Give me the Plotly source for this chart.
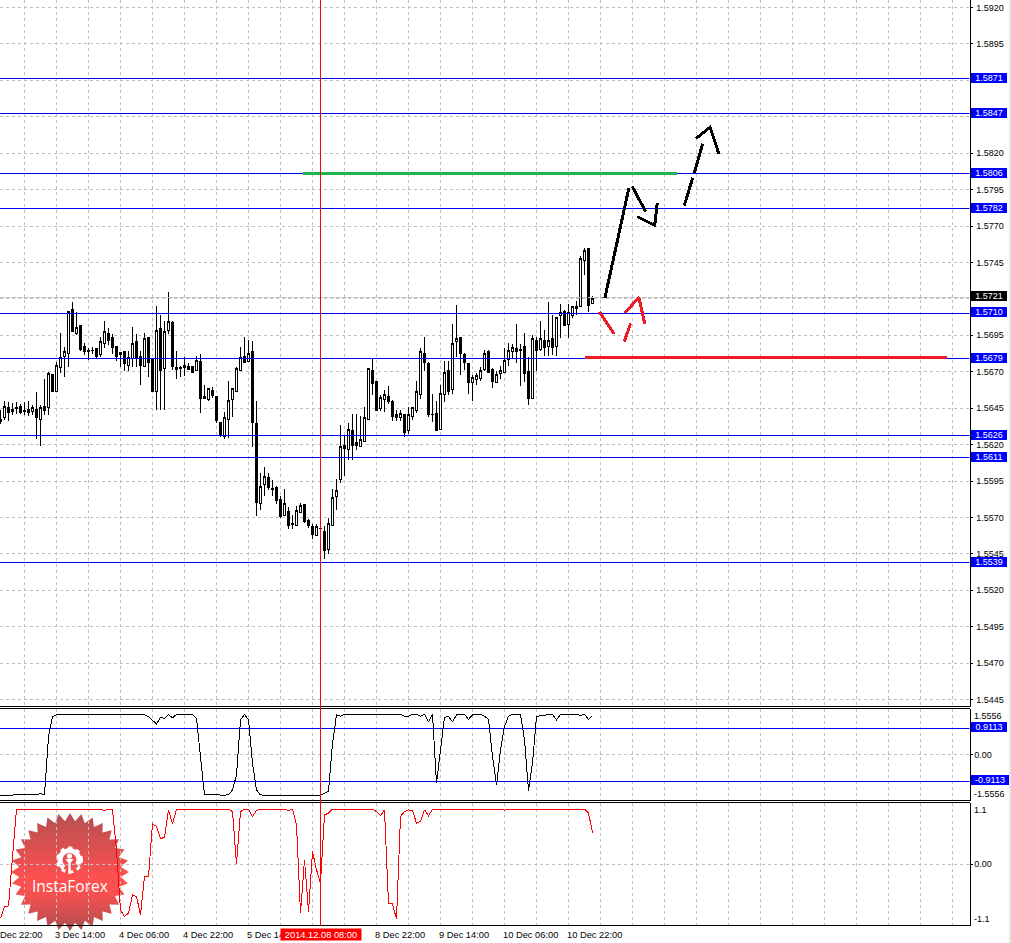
import base64
import math
import plotly.graph_objects as go

# ---------- data (ten candles per row) ----------
OPEN = [
1.56371,1.56383,1.56453,1.56442,1.56453,1.56462,1.56435,1.56442,1.56430,1.56439,
1.56371,1.56460,1.56453,1.56678,1.56562,1.56730,1.56803,1.56825,1.57127,1.56962,
1.57019,1.56871,1.56848,1.56848,1.56857,1.56816,1.56896,1.56964,1.56932,1.56875,
1.56830,1.56841,1.56744,1.56794,1.56909,1.56807,1.56739,1.56937,1.56782,1.56562,
1.56998,1.56719,1.56980,1.57039,1.56732,1.56732,1.56730,1.56739,1.56735,1.56710,
1.56769,1.56528,1.56512,1.56569,1.56530,1.56351,1.56253,1.56371,1.56512,1.56566,
1.56712,1.56807,1.56771,1.56841,1.56344,1.55799,1.55929,1.55976,1.55897,1.55908,
1.55826,1.55715,1.55738,1.55656,1.55647,1.55736,1.55786,1.55677,1.55636,1.55579,
1.55627,1.55606,1.55477,1.55645,1.55845,1.55958,1.56197,1.56167,1.56299,1.56215,
1.56185,1.56222,1.56371,1.56712,1.56632,1.56451,1.56512,1.56528,1.56496,1.56405,
1.56383,1.56408,1.56294,1.56390,1.56437,1.56546,1.56828,1.56760,1.56408,1.56412,
1.56306,1.56542,1.56712,1.56581,1.56910,1.56937,1.56821,1.56760,1.56623,1.56648,
1.56655,1.56716,1.56841,1.56714,1.56626,1.56689,1.56698,1.56787,1.56841,1.56857,
1.56855,1.56871,1.56701,1.56514,1.56916,1.56850,1.56916,1.56871,1.56930,1.56873,
1.57084,1.57114,1.57023,1.57084,1.57132,1.57150,1.57461,1.57543,1.57168]
HIGH = [
1.56435,1.56496,1.56492,1.56485,1.56492,1.56476,1.56492,1.56496,1.56469,1.56564,
1.56474,1.56651,1.56701,1.56678,1.56764,1.56969,1.56871,1.57116,1.57177,1.57109,
1.57021,1.56898,1.56866,1.56873,1.56857,1.56939,1.57048,1.56998,1.56957,1.56878,
1.56839,1.56844,1.56844,1.57007,1.56962,1.56844,1.56964,1.56939,1.56787,1.57150,
1.57093,1.57048,1.57245,1.57048,1.56844,1.56741,1.56803,1.56759,1.56739,1.56809,
1.56821,1.56612,1.56589,1.56594,1.56533,1.56356,1.56424,1.56639,1.56583,1.56730,
1.56871,1.56939,1.56916,1.56912,1.56496,1.56004,1.56047,1.56008,1.55958,1.55917,
1.55849,1.55895,1.55772,1.55720,1.55777,1.55799,1.55788,1.55690,1.55652,1.55652,
1.55629,1.55640,1.55697,1.55895,1.55963,1.56333,1.56258,1.56351,1.56408,1.56412,
1.56394,1.56458,1.56719,1.56787,1.56639,1.56537,1.56576,1.56605,1.56503,1.56435,
1.56440,1.56412,1.56458,1.56453,1.56639,1.56866,1.56939,1.56764,1.56549,1.56496,
1.56612,1.56771,1.56771,1.57030,1.57157,1.56939,1.56832,1.56760,1.56680,1.56689,
1.56735,1.56848,1.56848,1.56723,1.56707,1.56742,1.56860,1.56896,1.56889,1.57025,
1.56889,1.56964,1.56798,1.56950,1.56939,1.57048,1.56984,1.57180,1.57093,1.57075,
1.57166,1.57121,1.57166,1.57148,1.57189,1.57495,1.57552,1.57543,1.57218]
LOW = [
1.56344,1.56367,1.56360,1.56401,1.56412,1.56408,1.56401,1.56394,1.56401,1.56237,
1.56192,1.56405,1.56401,1.56560,1.56560,1.56689,1.56667,1.56735,1.56975,1.56953,
1.56844,1.56816,1.56780,1.56825,1.56796,1.56803,1.56866,1.56884,1.56825,1.56776,
1.56735,1.56707,1.56703,1.56730,1.56735,1.56607,1.56737,1.56667,1.56560,1.56435,
1.56435,1.56435,1.56962,1.56712,1.56648,1.56667,1.56673,1.56712,1.56694,1.56707,
1.56417,1.56512,1.56498,1.56521,1.56349,1.56253,1.56235,1.56242,1.56390,1.56560,
1.56703,1.56757,1.56764,1.56185,1.55709,1.55754,1.55845,1.55886,1.55845,1.55795,
1.55697,1.55713,1.55618,1.55618,1.55645,1.55731,1.55663,1.55629,1.55554,1.55577,
1.55622,1.55413,1.55448,1.55640,1.55754,1.55936,1.55981,1.56094,1.56094,1.56162,
1.56181,1.56217,1.56367,1.56537,1.56433,1.56430,1.56424,1.56476,1.56360,1.56362,
1.56362,1.56253,1.56272,1.56367,1.56417,1.56514,1.56707,1.56390,1.56356,1.56294,
1.56299,1.56492,1.56537,1.56544,1.56798,1.56678,1.56712,1.56544,1.56496,1.56610,
1.56635,1.56707,1.56696,1.56587,1.56621,1.56651,1.56696,1.56742,1.56787,1.56760,
1.56601,1.56628,1.56469,1.56510,1.56707,1.56844,1.56805,1.56810,1.56816,1.56810,
1.56934,1.57014,1.56930,1.57066,1.57089,1.57143,1.57361,1.57112,1.57166]
CLOSE = [
1.56356,1.56462,1.56417,1.56430,1.56451,1.56417,1.56430,1.56417,1.56453,1.56383,
1.56453,1.56437,1.56691,1.56566,1.56741,1.56800,1.56841,1.57114,1.56975,1.57005,
1.56853,1.56837,1.56841,1.56846,1.56803,1.56909,1.56978,1.56914,1.56869,1.56805,
1.56821,1.56757,1.56800,1.56896,1.56800,1.56741,1.56930,1.56764,1.56564,1.56982,
1.56712,1.56978,1.57046,1.56735,1.56716,1.56719,1.56746,1.56716,1.56696,1.56780,
1.56519,1.56517,1.56583,1.56540,1.56362,1.56260,1.56385,1.56501,1.56583,1.56719,
1.56800,1.56762,1.56828,1.56349,1.55804,1.55913,1.55983,1.55908,1.55892,1.55818,
1.55709,1.55799,1.55647,1.55654,1.55745,1.55779,1.55670,1.55647,1.55584,1.55636,
1.55622,1.55470,1.55656,1.55840,1.55886,1.56190,1.56170,1.56303,1.56197,1.56192,
1.56235,1.56385,1.56719,1.56621,1.56437,1.56524,1.56542,1.56498,1.56390,1.56387,
1.56412,1.56281,1.56405,1.56453,1.56562,1.56841,1.56764,1.56408,1.56406,1.56299,
1.56549,1.56698,1.56564,1.56896,1.56930,1.56825,1.56764,1.56628,1.56658,1.56671,
1.56712,1.56828,1.56698,1.56635,1.56678,1.56712,1.56780,1.56848,1.56869,1.56839,
1.56848,1.56689,1.56519,1.56930,1.56848,1.56930,1.56864,1.56916,1.56869,1.57073,
1.57107,1.57016,1.57107,1.57148,1.57148,1.57475,1.57529,1.57152,1.57203]

IND1 = [
-1.40,-1.40,-1.40,-1.40,-1.40,-1.40,-1.40,-1.40,-1.40,-1.38,
-1.35,-1.38,0.61,1.30,1.36,1.38,1.37,1.38,1.38,1.38,
1.38,1.38,1.38,1.38,1.38,1.38,1.38,1.38,1.38,1.38,
1.38,1.38,1.38,1.38,1.38,1.38,1.37,1.30,1.16,1.05,
1.28,1.24,1.37,1.26,1.38,1.38,1.38,1.38,1.38,1.24,
-0.19,-1.39,-1.39,-1.37,-1.37,-1.40,-1.39,-1.39,-1.22,-0.70,
1.19,1.38,1.19,-0.30,-1.22,-1.39,-1.40,-1.40,-1.40,-1.40,
-1.40,-1.40,-1.40,-1.40,-1.40,-1.40,-1.40,-1.40,-1.38,-1.40,
-1.40,-1.34,-1.26,0.38,1.36,1.32,1.38,1.38,1.38,1.38,
1.38,1.38,1.38,1.38,1.38,1.38,1.38,1.38,1.38,1.38,
1.38,1.32,1.32,1.38,1.38,1.32,1.38,1.13,1.38,-0.99,
0.15,1.28,1.30,1.13,1.36,1.38,1.38,1.21,1.36,1.38,
1.38,1.32,1.21,-0.07,-1.05,0.15,0.96,1.32,1.38,1.38,
1.38,0.50,-1.24,-0.30,1.30,1.34,1.36,1.36,1.38,1.19,
1.38,1.38,1.38,1.38,1.38,1.34,1.38,1.21,1.34]
IND2 = [
-1.08,-0.847,-0.833,0.187,1.10,1.10,1.10,1.10,1.10,1.10,
1.10,1.10,1.10,1.10,1.10,1.10,1.10,1.10,1.10,1.10,
1.10,1.10,1.10,1.10,1.10,1.10,1.073,1.10,1.087,0.287,
-0.913,-1.047,-0.98,-0.613,-0.647,-1.013,-0.247,-0.247,0.807,0.753,
0.507,0.54,1.087,0.807,1.10,1.10,1.10,1.10,1.10,1.10,
1.10,1.10,1.10,1.10,1.10,1.10,1.10,1.10,1.053,0.00,
1.053,1.10,1.10,0.953,1.073,1.10,1.10,1.10,1.10,1.10,
1.10,1.10,1.073,1.10,0.787,-0.98,0.087,-0.947,0.253,-0.113,
-0.38,0.987,1.02,1.10,1.10,1.10,1.10,1.10,1.10,1.10,
1.10,1.10,1.10,1.10,1.053,0.973,1.087,-0.78,-0.793,-1.10,
0.953,1.053,1.087,1.073,0.82,0.853,1.087,0.967,1.10,1.10,
1.10,1.087,1.10,1.10,1.10,1.10,1.10,1.10,1.10,1.10,
1.10,1.10,1.10,1.10,1.10,1.10,1.08,1.10,1.10,1.10,
1.10,1.10,1.10,1.10,1.10,1.10,1.10,1.10,1.10,1.10,
1.10,1.10,1.10,1.10,1.10,1.10,1.10,1.02,0.633]

LEVELS = [1.5871, 1.5847, 1.5806, 1.5782, 1.5710, 1.5679, 1.5626, 1.5611, 1.5539]
LAST_PRICE = 1.5721
IND1_LEVELS = [0.9113, -0.9113]
MAIN_TICKS = [1.5920,1.5895,1.5870,1.5845,1.5820,1.5795,1.5770,1.5745,1.5720,1.5695,1.5670,1.5645,1.5620,1.5595,1.5570,1.5545,1.5520,1.5495,1.5470,1.5445]
HIDDEN_TICK_LABELS = [1.5870, 1.5845, 1.5720]  # covered by the level tags in the reference
GRID_CANDLES = [6 + 8 * j for j in range(30)]
TIME_CANDLES = [14, 30, 46, 62, 94, 110, 126, 142]
TIME_LABELS = ["3 Dec 14:00","4 Dec 06:00","4 Dec 22:00","5 Dec 14:00","8 Dec 22:00","9 Dec 14:00","10 Dec 06:00","10 Dec 22:00"]
FIRST_TIME_LABEL = "Dec 22:00"
CROSS_CANDLE = 80
CROSS_LABEL = "2014.12.08 08:00"

BLACK_X = [151.1,157.1,None,157.9,161.3,None,159.2,163.55,164.2,None,170.95,173.05,None,173.45,175.55,None,173.9,177.4,179.6]
BLACK_Y = [1.57207,1.57962,None,1.57973,1.57799,None,1.57765,1.57705,1.57861,None,1.57841,1.58031,None,1.58065,1.58266,None,1.58302,1.58378,1.58195]
RED_X = [149.7,153.4,None,155.95,157.55,None,156.1,159.6,161.05]
RED_Y = [1.57111,1.56960,None,1.56908,1.57033,None,1.57104,1.57211,1.57029]
GREEN_X = [75.6,169.1]
GREEN_Y = [1.5806,1.5806]
RED_LEVEL_X = [146.1,236.6]
RED_LEVEL_Y = [1.56798,1.56798]

lengths = {n: len(v) for n, v in dict(OPEN=OPEN, HIGH=HIGH, LOW=LOW, CLOSE=CLOSE, IND1=IND1, IND2=IND2).items()}
if set(lengths.values()) != {149}:
    raise SystemExit(str(lengths))

# ---------- layout constants (pixels of the 1011x943 page) ----------
W, H = 1011, 943
RIGHT = 969.5
P1_BOTTOM, P2_TOP, P2_BOTTOM, P3_TOP, P3_BOTTOM = 706.5, 708.5, 800.5, 802.5, 925.5
FONT = "Liberation Sans"
FS_AXIS = 9
FS_TIME = 9.3
BLUE = "#0000f0"
GRID = "#c0c0c0"
DASH = "3px,3px"

def px(v): return v / W
def py(v): return 1 - v / H
def xpx(k): return 0.5 + 4 * k

xs = list(range(len(CLOSE)))
fig = go.Figure()

fig.add_trace(go.Candlestick(
    x=xs, open=OPEN, high=HIGH, low=LOW, close=CLOSE,
    increasing=dict(line=dict(color="black", width=1), fillcolor="white"),
    decreasing=dict(line=dict(color="black", width=1), fillcolor="black"),
    whiskerwidth=0, hoverinfo="skip", showlegend=False))

x_span = [-0.125, (RIGHT - 0.5) / 4]
fig.add_trace(go.Scatter(x=x_span, y=[LAST_PRICE, LAST_PRICE], mode="lines",
                         line=dict(color=GRID, width=1, dash="5px,1px"), hoverinfo="skip"))
for lvl in LEVELS:
    fig.add_trace(go.Scatter(x=x_span, y=[lvl, lvl], mode="lines",
                             line=dict(color=BLUE, width=1), hoverinfo="skip"))

fig.add_trace(go.Scatter(x=GREEN_X, y=GREEN_Y, mode="lines", line=dict(color="#22b14c", width=3), hoverinfo="skip"))
fig.add_trace(go.Scatter(x=RED_LEVEL_X, y=RED_LEVEL_Y, mode="lines", line=dict(color="#ed1c24", width=3), hoverinfo="skip"))
fig.add_trace(go.Scatter(x=BLACK_X, y=BLACK_Y, mode="lines", line=dict(color="black", width=3), hoverinfo="skip"))
fig.add_trace(go.Scatter(x=RED_X, y=RED_Y, mode="lines", line=dict(color="#ed1c24", width=3), hoverinfo="skip"))

for lvl in IND1_LEVELS:
    fig.add_trace(go.Scatter(x=x_span, y=[lvl, lvl], yaxis="y2", mode="lines",
                             line=dict(color=BLUE, width=1), hoverinfo="skip"))
fig.add_trace(go.Scatter(x=xs, y=IND1, yaxis="y2", mode="lines",
                         line=dict(color="black", width=1), hoverinfo="skip"))
fig.add_trace(go.Scatter(x=xs, y=IND2, yaxis="y3", mode="lines",
                         line=dict(color="#ff0000", width=1), hoverinfo="skip"))

common_y = dict(side="right", showline=True, linecolor="black", linewidth=1, ticks="outside", ticklen=2,
                tickcolor="black", gridcolor=GRID, griddash=DASH, gridwidth=1, zeroline=False,
                tickfont=dict(family=FONT, size=FS_AXIS, color="black"), fixedrange=True)

annotations = []
def tag(text, yval, yref, bg, width=36, x=970.8):
    annotations.append(dict(text=text, x=px(x), xref="paper", xanchor="left", y=yval, yref=yref, yanchor="middle",
                            yshift=1, showarrow=False, bgcolor=bg, width=width, height=10, borderpad=0, borderwidth=0,
                            align="center", font=dict(family=FONT, size=FS_AXIS, color="white")))
def plain(text, x, y, size=FS_AXIS):
    annotations.append(dict(text=text, x=px(x), xref="paper", xanchor="left", y=py(y), yref="paper", yanchor="middle",
                            showarrow=False, borderpad=0, align="left",
                            font=dict(family=FONT, size=size, color="black")))

for lvl in LEVELS:
    tag(f"{lvl:.4f}", lvl, "y", "#0000ff")
tag(f"{LAST_PRICE:.4f}", LAST_PRICE, "y", "black")
tag("0.9113", 0.9113, "y2", "#0000ff")
tag("-0.9113", -0.9113, "y2", "#0000ff", width=38)
plain("1.5556", 973, 715.7)
plain("-1.5556", 972.5, 793.7)
plain("1.1", 973, 809.7)
plain("-1.1", 972.5, 918.7)

plain(FIRST_TIME_LABEL, -1.5, 934.5, FS_TIME)
for k, lab in zip(TIME_CANDLES, TIME_LABELS):
    plain(lab, xpx(k) - 3, 934.5, FS_TIME)
annotations.append(dict(text=CROSS_LABEL, x=px(xpx(CROSS_CANDLE)), xref="paper", xanchor="center", y=py(934), yref="paper",
                        yanchor="middle", showarrow=False, bgcolor="#ff0000", width=80, height=11, borderpad=0,
                        align="center", font=dict(family=FONT, size=FS_TIME, color="white")))
annotations.append(dict(text="InstaForex", x=px(69.5), xref="paper", xanchor="center", y=py(885.5), yref="paper", yanchor="middle",
                        showarrow=False, font=dict(family="Open Sans", size=15.5, color="white")))

# watermark badge, drawn below the traces
cx, cy, R, r, N = 70, 67, 59, 51, 32
pts = []
for i in range(2 * N):
    a = math.pi * i / N - math.pi / 2
    rad = R if i % 2 == 0 else r
    pts.append(f"{cx + rad * math.cos(a):.1f},{cy + rad * math.sin(a):.1f}")
gx, gy = 69.5, 55
svg = f'''<svg xmlns="http://www.w3.org/2000/svg" width="140" height="135" viewBox="0 0 140 135">
<defs><linearGradient id="g" x1="0" y1="0" x2="0" y2="1">
<stop offset="0" stop-color="#b55050"/><stop offset="0.55" stop-color="#ff5050"/><stop offset="0.7" stop-color="#f55050"/><stop offset="1" stop-color="#ab4f4f"/>
</linearGradient></defs>
<polygon points="{' '.join(pts)}" fill="url(#g)"/>
<circle cx="{gx}" cy="{gy}" r="9.5" fill="none" stroke="white" stroke-width="5" stroke-dasharray="44 16" transform="rotate(125 {gx} {gy})"/>
<circle cx="{gx}" cy="{gy}" r="12" fill="none" stroke="white" stroke-width="3" stroke-dasharray="4 4" stroke-dashoffset="1"/>
<circle cx="{gx}" cy="{gy - 4}" r="2.6" fill="white"/>
<path d="M{gx - 4} {gy - 1} L{gx - 1.2} {gy + 3} L{gx - 1.2} {gy + 14} L{gx + 1.2} {gy + 14} L{gx + 1.2} {gy + 3} L{gx + 4} {gy - 1} Z" fill="white"/>
</svg>'''
src = "data:image/svg+xml;base64," + base64.b64encode(svg.encode()).decode()

shapes = [dict(type="line", xref="paper", yref="paper", x0=0, x1=px(RIGHT), y0=py(v), y1=py(v),
               line=dict(color="black", width=1)) for v in (P1_BOTTOM, P2_TOP, P2_BOTTOM, P3_TOP, P3_BOTTOM)]
shapes.append(dict(type="line", xref="x", yref="paper", x0=CROSS_CANDLE, x1=CROSS_CANDLE, y0=py(P3_BOTTOM), y1=1,
                   line=dict(color="#ff0000", width=1)))
shapes.append(dict(type="line", xref="paper", yref="paper", x0=px(1010), x1=px(1010), y0=0, y1=1,
                   line=dict(color="#e6e6e6", width=2)))

main_text = ["" if v in HIDDEN_TICK_LABELS else f"{v:.4f}" for v in MAIN_TICKS]
fig.update_layout(
    width=W, height=H, autosize=False, margin=dict(l=0, r=0, t=0, b=0, pad=0),
    paper_bgcolor="white", plot_bgcolor="white", showlegend=False, hovermode=False, dragmode=False,
    font=dict(family=FONT, size=FS_AXIS, color="black"),
    xaxis=dict(domain=[0, px(RIGHT)], range=x_span, anchor="y3", tickmode="array", tickvals=GRID_CANDLES,
               showticklabels=False, ticks="", showgrid=True, gridcolor=GRID, griddash=DASH, gridwidth=1,
               zeroline=False, showline=False, rangeslider=dict(visible=False), fixedrange=True),
    yaxis=dict(domain=[py(P1_BOTTOM), 1], range=[1.54402, 1.59252], anchor="x", tickmode="array",
               tickvals=MAIN_TICKS, ticktext=main_text, showgrid=True, ticklabelstandoff=2, **common_y),
    yaxis2=dict(domain=[py(P2_BOTTOM), py(P2_TOP)], range=[-1.582, 1.582], anchor="x", tickmode="array",
                tickvals=[0], ticktext=["0.00"], showgrid=True, ticklabelstandoff=0, **common_y),
    yaxis3=dict(domain=[py(P3_BOTTOM), py(P3_TOP)], range=[-1.226, 1.234], anchor="x", tickmode="array",
                tickvals=[0], ticktext=["0.00"], showgrid=True, ticklabelstandoff=0, **common_y),
    annotations=annotations, shapes=shapes,
    images=[dict(source=src, xref="paper", yref="paper", x=0, y=py(805), sizex=px(140), sizey=135 / H,
                 xanchor="left", yanchor="top", sizing="stretch", layer="below", opacity=1)],
)

post = ("document.body.style.margin='0';document.body.style.overflow='hidden';"
        "document.querySelectorAll('.scatterlayer path, .boxlayer path, .shapelayer path')"
        ".forEach(function(p){p.style.shapeRendering='crispEdges';});")
fig.write_html("out.html", config=dict(displayModeBar=False, staticPlot=True), post_script=post)
